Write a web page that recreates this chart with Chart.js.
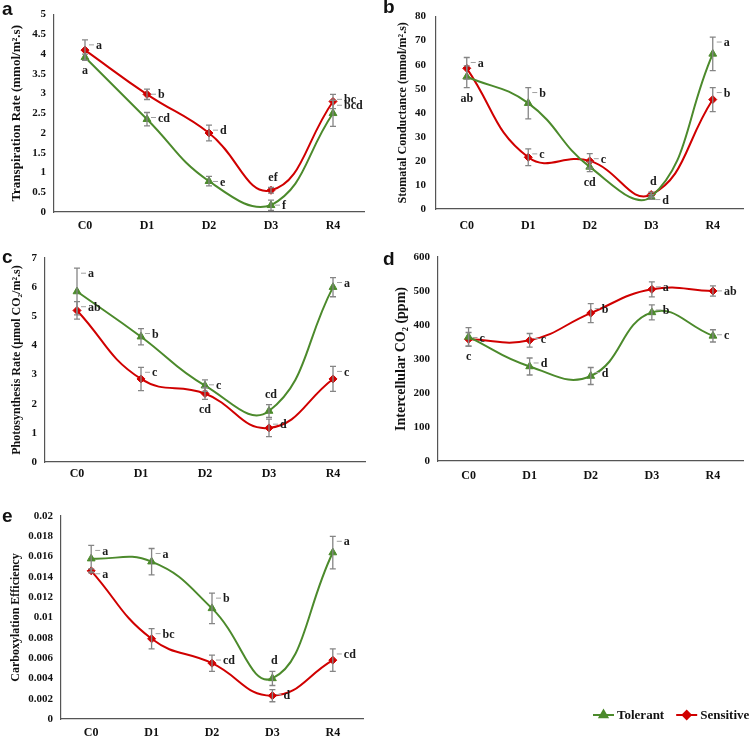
<!DOCTYPE html>
<html>
<head>
<meta charset="utf-8">
<script src="https://cdn.jsdelivr.net/npm/chart.js@4.4.1/dist/chart.umd.min.js"></script>
<style>
  body { margin: 0; background: #fff; }
  #page { position: relative; width: 749px; height: 738px; overflow: hidden; }
  .box { position: absolute; }
  .tag { position: absolute; font: bold 19px "Liberation Sans", Arial, sans-serif; line-height: 19px; color: #111; }
</style>
</head>
<body>
<div id="page">
  <div class="box" style="left:0;top:0;width:372px;height:236px"><canvas id="chartA"></canvas></div>
  <div class="box" style="left:372px;top:0;width:377px;height:236px"><canvas id="chartB"></canvas></div>
  <div class="box" style="left:0;top:240px;width:372px;height:245px"><canvas id="chartC"></canvas></div>
  <div class="box" style="left:372px;top:240px;width:377px;height:245px"><canvas id="chartD"></canvas></div>
  <div class="box" style="left:0;top:480px;width:749px;height:258px"><canvas id="chartE"></canvas></div>
  <div class="tag" style="left:2px;top:-1px">a</div>
  <div class="tag" style="left:383px;top:-3px">b</div>
  <div class="tag" style="left:2px;top:247px">c</div>
  <div class="tag" style="left:383px;top:249px">d</div>
  <div class="tag" style="left:2px;top:506px">e</div>
</div>
<script>
const categories = ["C0", "D1", "D2", "D3", "R4"];
const seriesNames = ["Tolerant", "Sensitive"];

// a - transpiration rate
const transTol = [3.92, 2.35, 0.78, 0.17, 2.5];
const transTolErr = [0.08, 0.17, 0.12, 0.13, 0.33];
const transTolSig = ["a", "cd", "e", "f", "bcd"];
const transSen = [4.1, 2.98, 2.0, 0.55, 2.8];
const transSenErr = [0.26, 0.13, 0.2, 0.07, 0.18];
const transSenSig = ["a", "b", "d", "ef", "bc"];

// b - stomatal conductance
const stomTol = [55, 44, 17.5, 5, 64.5];
const stomTolErr = [4.5, 6.5, 2, 1, 7];
const stomTolSig = ["ab", "b", "cd", "d", "a"];
const stomSen = [58.5, 21.5, 20, 6, 45.5];
const stomSenErr = [4.5, 3.5, 3, 1, 5];
const stomSenSig = ["a", "c", "c", "d", "b"];

// c - photosynthesis rate
const photoTol = [5.85, 4.3, 2.62, 1.75, 6.0];
const photoTolErr = [0.8, 0.28, 0.2, 0.22, 0.33];
const photoTolSig = ["a", "b", "c", "cd", "a"];
const photoSen = [5.2, 2.85, 2.35, 1.17, 2.85];
const photoSenErr = [0.3, 0.4, 0.2, 0.3, 0.43];
const photoSenSig = ["ab", "c", "cd", "d", "c"];

// d - intercellular CO2
const co2Tol = [365, 278, 250, 437, 368];
const co2TolErr = [27, 25, 25, 22, 18];
const co2TolSig = ["c", "d", "d", "b", "c"];
const co2Sen = [358, 355, 435, 505, 500];
const co2SenErr = [20, 20, 28, 22, 15];
const co2SenSig = ["c", "c", "b", "a", "ab"];

// e - carboxylation efficiency
const carbTol = [0.0158, 0.0155, 0.0109, 0.004, 0.0164];
const carbTolErr = [0.0013, 0.0013, 0.0015, 0.0007, 0.0016];
const carbTolSig = ["a", "a", "b", "d", "a"];
const carbSen = [0.0146, 0.0079, 0.0055, 0.0023, 0.0058];
const carbSenErr = [0.0002, 0.001, 0.0008, 0.0006, 0.0011];
const carbSenSig = ["a", "bc", "cd", "d", "cd"];

const GREEN = "#4c8a2c";
const RED = "#d00000";
const SERIF = '"Liberation Serif", "DejaVu Serif", serif';

// where each letter sits relative to its error bar
const placeRight = ["right", "right", "right", "right", "right"];

const errorBars = {
  id: "errorBars",
  afterDatasetsDraw(chart) {
    const { ctx, scales: { x, y } } = chart;
    ctx.save();
    chart.data.datasets.forEach((ds) => {
      ds.data.forEach((v, i) => {
        const px = x.getPixelForValue(i);
        const top = y.getPixelForValue(v + ds.errors[i]);
        const bot = y.getPixelForValue(v - ds.errors[i]);
        ctx.strokeStyle = "#858585";
        ctx.lineWidth = 1.3;
        ctx.beginPath();
        ctx.moveTo(px, top); ctx.lineTo(px, bot);
        ctx.moveTo(px - 3, top); ctx.lineTo(px + 3, top);
        ctx.moveTo(px - 3, bot); ctx.lineTo(px + 3, bot);
        ctx.stroke();

        const where = ds.sigPos[i];
        ctx.fillStyle = "#1a1a1a";
        ctx.font = "bold 12px " + SERIF;
        ctx.strokeStyle = "#a0a0a0";
        ctx.lineWidth = 1;
        if (where === "right") {
          ctx.beginPath();
          ctx.moveTo(px + 4, top + 5); ctx.lineTo(px + 9, top + 5);
          ctx.stroke();
          ctx.textAlign = "left"; ctx.textBaseline = "middle";
          ctx.fillText(ds.sig[i], px + 11, top + 6);
        } else if (where === "below") {
          ctx.textAlign = "center"; ctx.textBaseline = "top";
          ctx.fillText(ds.sig[i], px, bot + 5);
        } else {
          ctx.textAlign = "center"; ctx.textBaseline = "bottom";
          ctx.fillText(ds.sig[i], px + 2, top - 4);
        }
      });
    });
    ctx.restore();
  }
};

const legendBox = {
  id: "legendBox",
  afterDraw(chart, args, opts) {
    if (!opts.show) return;
    const ctx = chart.ctx;
    let lx = opts.x;
    const ly = opts.y;
    ctx.save();
    ctx.font = "bold 13px " + SERIF;
    ctx.textBaseline = "middle";
    ctx.textAlign = "left";
    chart.data.datasets.forEach((ds) => {
      ctx.strokeStyle = ds.borderColor;
      ctx.lineWidth = 2;
      ctx.beginPath(); ctx.moveTo(lx, ly); ctx.lineTo(lx + 21, ly); ctx.stroke();
      Chart.helpers.drawPoint(ctx, { pointStyle: ds.pointStyle, radius: ds.pointRadius, borderWidth: 1 }, lx + 10.5, ly);
      ctx.fillStyle = ds.borderColor;
      ctx.fill();
      ctx.fillStyle = "#111";
      ctx.fillText(ds.label, lx + 24, ly + 1);
      lx += 24 + ctx.measureText(ds.label).width + 12;
    });
    ctx.restore();
  }
};

function makePanel(id, p) {
  const dataset = (name, vals, errs, sig, pos, color, style, r) => ({
    label: name, data: vals, errors: errs, sig: sig, sigPos: pos,
    borderColor: color, backgroundColor: color, pointBackgroundColor: color,
    pointBorderColor: color, pointStyle: style, pointRadius: r, pointBorderWidth: 1,
    borderWidth: 2, tension: 0.45, fill: false
  });
  return new Chart(document.getElementById(id), {
    type: "line",
    data: {
      labels: categories,
      datasets: [
        dataset(seriesNames[0], p.tol, p.tolErr, p.tolSig, p.tolPos, GREEN, "triangle", 4.5),
        dataset(seriesNames[1], p.sen, p.senErr, p.senSig, p.senPos, RED, "rectRot", 4)
      ]
    },
    options: {
      responsive: true,
      maintainAspectRatio: false,
      animation: false,
      layout: { padding: { top: p.padTop, right: p.padRight, left: 0, bottom: 0 } },
      plugins: {
        legend: { display: false },
        tooltip: { enabled: false },
        legendBox: p.legend || { show: false }
      },
      scales: {
        x: {
          offset: true,
          grid: { display: false, drawTicks: false },
          border: { display: true, color: "#555", width: 1.2 },
          ticks: { color: "#111", padding: p.xPad, font: { family: SERIF, size: 12, weight: "bold" } },
          afterFit: (s) => { s.height = p.xH; }
        },
        y: {
          min: 0, max: p.max,
          grid: { display: false, drawTicks: false },
          border: { display: true, color: "#555", width: 1.2 },
          ticks: {
            stepSize: p.step, color: "#111", padding: p.yPad,
            font: { family: SERIF, size: 11, weight: "bold" },
            callback: (v) => String(+Number(v).toFixed(6))
          },
          title: {
            display: true, text: p.title, color: "#111",
            padding: { top: p.titlePad, bottom: 0 },
            font: { family: SERIF, size: p.titleSize, weight: "bold" }
          },
          afterFit: (s) => { s.width = p.yW; }
        }
      }
    },
    plugins: [errorBars, legendBox]
  });
}

makePanel("chartA", {
  tol: transTol, tolErr: transTolErr, tolSig: transTolSig,
  tolPos: ["below", "right", "right", "right", "right"],
  sen: transSen, senErr: transSenErr, senSig: transSenSig,
  senPos: ["right", "right", "right", "above", "right"],
  max: 5, step: 0.5, title: "Transpiration Rate (mmol/m\u00b2.s)", titleSize: 13,
  yW: 54, padTop: 7, padRight: 8, xH: 24, xPad: 7, yPad: 8, titlePad: 9
});

makePanel("chartB", {
  tol: stomTol, tolErr: stomTolErr, tolSig: stomTolSig,
  tolPos: ["below", "right", "below", "right", "right"],
  sen: stomSen, senErr: stomSenErr, senSig: stomSenSig,
  senPos: ["right", "right", "right", "above", "right"],
  max: 80, step: 10, title: "Stomatal Conductance (mmol/m\u00b2.s)", titleSize: 12,
  yW: 64, padTop: 5, padRight: 1, xH: 27, xPad: 10, yPad: 10, titlePad: 24
});

makePanel("chartC", {
  tol: photoTol, tolErr: photoTolErr, tolSig: photoTolSig,
  tolPos: ["right", "right", "right", "above", "right"],
  sen: photoSen, senErr: photoSenErr, senSig: photoSenSig,
  senPos: ["right", "right", "below", "right", "right"],
  max: 7, step: 1, title: "Photosynthesis Rate (\u00b5mol CO\u2082/m\u00b2.s)", titleSize: 12,
  yW: 45, padTop: 18, padRight: 7, xH: 23, xPad: 5, yPad: 8, titlePad: 10
});

makePanel("chartD", {
  tol: co2Tol, tolErr: co2TolErr, tolSig: co2TolSig,
  tolPos: ["below", "right", "right", "right", "right"],
  sen: co2Sen, senErr: co2SenErr, senSig: co2SenSig,
  senPos: placeRight,
  max: 600, step: 100, title: "Intercellular CO\u2082 (ppm)", titleSize: 14,
  yW: 66, padTop: 17, padRight: 1, xH: 24, xPad: 8, yPad: 8, titlePad: 21
});

makePanel("chartE", {
  tol: carbTol, tolErr: carbTolErr, tolSig: carbTolSig,
  tolPos: ["right", "right", "right", "above", "right"],
  sen: carbSen, senErr: carbSenErr, senSig: carbSenSig,
  senPos: placeRight,
  max: 0.02, step: 0.002, title: "Carboxylation Efficiency", titleSize: 12,
  yW: 61, padTop: 36, padRight: 386, xH: 19, xPad: 7, yPad: 8, titlePad: 9,
  legend: { show: true, x: 593, y: 235 }
});
</script>
</body>
</html>
